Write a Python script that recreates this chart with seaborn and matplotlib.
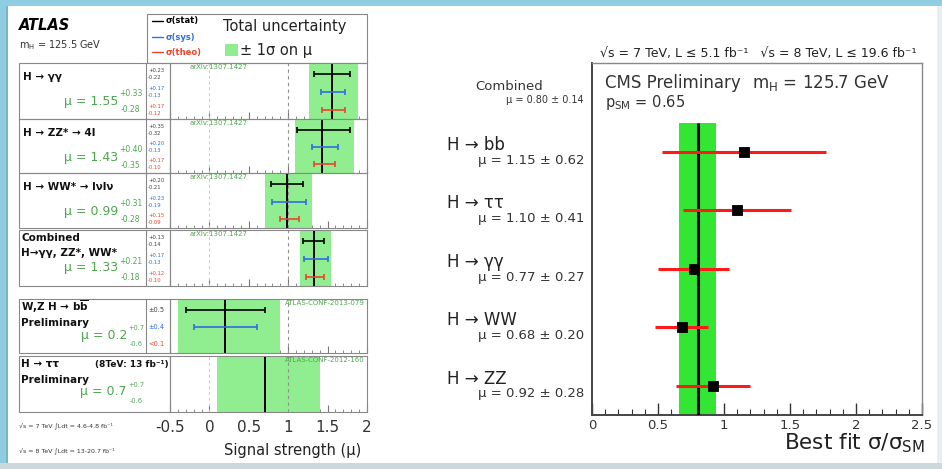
import matplotlib
matplotlib.use('Agg')
import numpy as np
import pandas as pd
import matplotlib.pyplot as plt
import matplotlib.transforms as mtrans
import seaborn as sns
from matplotlib.patches import Rectangle
from matplotlib.ticker import MultipleLocator

# ---------------- data: ATLAS ----------------
atlas_titles = ['H → γγ', 'H → ZZ* → 4l', 'H → WW* → lνlν',
                'Combined\nH→γγ, ZZ*, WW*', 'W,Z H → b' + r'$\overline{\mathbf{b}}$' + '\nPreliminary',
                'H → ττ\nPreliminary']
atlas_mu = [1.55, 1.43, 0.99, 1.33, 0.2, 0.7]
atlas_mu_txt = ['1.55', '1.43', '0.99', '1.33', '0.2', '0.7']
atlas_tot_up = [0.33, 0.40, 0.31, 0.21, 0.7, 0.7]
atlas_tot_dn = [0.28, 0.35, 0.28, 0.18, 0.6, 0.6]
atlas_stat_up = [0.23, 0.35, 0.20, 0.13, 0.5, np.nan]
atlas_stat_dn = [0.22, 0.32, 0.21, 0.14, 0.5, np.nan]
atlas_sys_up = [0.17, 0.20, 0.23, 0.17, 0.4, np.nan]
atlas_sys_dn = [0.13, 0.13, 0.19, 0.13, 0.4, np.nan]
atlas_theo_up = [0.17, 0.17, 0.15, 0.12, np.nan, np.nan]
atlas_theo_dn = [0.12, 0.10, 0.09, 0.10, np.nan, np.nan]
atlas_refs = ['arXiv:1307.1427', 'arXiv:1307.1427', 'arXiv:1307.1427', 'arXiv:1307.1427',
              'ATLAS-CONF-2013-079', 'ATLAS-CONF-2012-160']
atlas_xticks = [-0.5, 0, 0.5, 1, 1.5, 2]
atlas_xticklabels = ['-0.5', '0', '0.5', '1', '1.5', '2']

# ---------------- data: CMS ----------------
cms_channels = ['H → bb', 'H → ττ', 'H → γγ', 'H → WW', 'H → ZZ']
cms_mu = [1.15, 1.10, 0.77, 0.68, 0.92]
cms_err = [0.62, 0.41, 0.27, 0.20, 0.28]
cms_comb_mu = 0.80
cms_comb_err = 0.14
cms_xticks = [0, 0.5, 1, 1.5, 2, 2.5]
cms_xticklabels = ['0', '0.5', '1', '1.5', '2', '2.5']

sns.set_theme(style='white')
plt.rcParams['font.family'] = ['DejaVu Sans']
plt.rcParams['mathtext.fontset'] = 'dejavusans'

W, H = 942, 469
fig = plt.figure(figsize=(W / 100, H / 100), dpi=100)
fig.patch.set_facecolor('#8ecde2')


def rect(x0, y0, x1, y1):
    return [x0 / W, 1 - y1 / H, (x1 - x0) / W, (y1 - y0) / H]


bg = fig.add_axes([0, 0, 1, 1], zorder=0)
bg.set_xlim(0, W)
bg.set_ylim(H, 0)
bg.axis('off')
bg.add_patch(Rectangle((8, 6), 929, 457, facecolor='white', edgecolor='none'))
bg.add_patch(Rectangle((0, 463), W, 6, facecolor='#cdd8dd', edgecolor='none'))
bg.add_patch(Rectangle((937, 6), 5, 457, facecolor='#e6eff3', edgecolor='none'))
bg.add_patch(Rectangle((6, 6), 2, 457, facecolor='#74b6cc', edgecolor='none'))


def T(x, y, s, **kw):
    kw.setdefault('va', 'center')
    kw.setdefault('ha', 'left')
    kw.setdefault('color', '#222222')
    return bg.text(x, y, s, **kw)


GRAY = '#888888'
GREEN_TXT = '#4fa64f'
BLUE = '#2f6fe0'
RED = '#e8452a'
ATLAS_GREEN = '#90ee90'

# ---------------- ATLAS header ----------------
T(19, 25, 'ATLAS', fontsize=10.5, fontweight='bold', fontstyle='italic', color='black')
T(19, 45, r'm$_{\rm H}$ = 125.5 GeV', fontsize=7, color='#333333')
bg.add_patch(Rectangle((147, 14), 220, 49, fill=False, edgecolor=GRAY, lw=0.8))
for yy, c, lab in [(21, 'black', 'σ(stat)'), (37, BLUE, 'σ(sys)'), (52, RED, 'σ(theo)')]:
    bg.plot([152, 163], [yy, yy], color=c, lw=1)
    T(166, yy, lab, color=c, fontsize=6, fontweight='bold')
T(223, 27, 'Total uncertainty', fontsize=10.5, color='#222222')
bg.add_patch(Rectangle((225, 44), 13, 12, facecolor=ATLAS_GREEN, edgecolor='none'))
T(240, 50, '± 1σ on μ', fontsize=10.5, color='#222222')

# ---------------- ATLAS rows ----------------
rows = [(63, 119), (119, 173), (173, 228), (230, 286), (299, 353), (356, 412)]
bar_y = [0.2, 0.52, 0.84]
for i, (y0, y1) in enumerate(rows):
    bg.add_patch(Rectangle((19, y0), 151, y1 - y0, fill=False, edgecolor=GRAY, lw=0.8))
    if i < 5:
        bg.plot([146, 146], [y0, y1], color=GRAY, lw=0.8)
    p = fig.add_axes(rect(170, y0, 367, y1), zorder=2)
    p.set_facecolor('none')
    m = atlas_mu[i]
    p.fill_betweenx([0, 1], m - atlas_tot_dn[i], m + atlas_tot_up[i], color=ATLAS_GREEN, lw=0)
    p.axvline(0, ls=(0, (3, 3)), color='#c8c8c8', lw=0.7)
    p.axvline(1, ls=(0, (3, 3)), color='#909090', lw=0.8)
    p.axvline(m, color='black', lw=1.4)
    for yb, up, dn, c in [(bar_y[0], atlas_stat_up[i], atlas_stat_dn[i], 'black'),
                          (bar_y[1], atlas_sys_up[i], atlas_sys_dn[i], BLUE),
                          (bar_y[2], atlas_theo_up[i], atlas_theo_dn[i], RED)]:
        if not np.isnan(up):
            p.errorbar([m], [yb], xerr=[[dn], [up]], fmt='none', ecolor=c, elinewidth=1.2,
                       capsize=2.5, capthick=1.2)
    p.set_xlim(-0.5, 2.0)
    p.set_ylim(1, 0)
    p.set_yticks([])
    p.set_xticks(atlas_xticks)
    p.xaxis.set_minor_locator(MultipleLocator(0.1))
    p.tick_params(axis='x', which='both', direction='in', bottom=True, top=False,
                  colors='#777777', labelcolor='#333333', labelsize=11, pad=6)
    p.tick_params(axis='x', which='major', length=5, width=0.8)
    p.tick_params(axis='x', which='minor', length=2.5, width=0.6)
    if i == 5:
        p.set_xticklabels(atlas_xticklabels)
    else:
        p.set_xticklabels([])
    for s in p.spines.values():
        s.set_color(GRAY)
        s.set_linewidth(0.8)
    # reference label
    if i < 4:
        p.text(0.1, 0.92, atlas_refs[i], transform=p.transAxes, fontsize=5, color=GREEN_TXT,
               ha='left', va='center')
    else:
        p.text(0.99, 0.92, atlas_refs[i], transform=p.transAxes, fontsize=5, color=GREEN_TXT,
               ha='right', va='center')

    # labels in the left box
    title_lines = atlas_titles[i].split('\n')
    if i < 3:
        T(23, y0 + 14, title_lines[0], fontsize=7.5, fontweight='bold', color='#111111')
        ym = y0 + 38
        xr = 118
        sfs = 5.5
    elif i == 3:
        T(21, y0 + 8, title_lines[0], fontsize=7.5, fontweight='bold', color='#111111')
        T(21, y0 + 23, title_lines[1], fontsize=7.5, fontweight='bold', color='#111111')
        ym = y0 + 38
        xr = 118
        sfs = 5.5
    else:
        T(21, y0 + 8, title_lines[0], fontsize=7.5, fontweight='bold', color='#111111')
        T(21, y0 + 24, title_lines[1], fontsize=7.5, fontweight='bold', color='#111111')
        ym = y0 + 36
        xr = 127
        sfs = 4.8
        if i == 5:
            T(95, y0 + 8, '(8TeV: 13 fb⁻¹)', fontsize=6.5, fontweight='bold', color='#111111')
    T(xr, ym, 'μ = ' + atlas_mu_txt[i], fontsize=9, color=GREEN_TXT, ha='right')
    fmt = '{:+.2f}' if i < 4 else '{:+.1f}'
    T(xr + 1, ym - 7, fmt.format(atlas_tot_up[i]), fontsize=sfs, color=GREEN_TXT, ha='left')
    T(xr + 3, ym + 9, fmt.format(-atlas_tot_dn[i]), fontsize=sfs, color=GREEN_TXT, ha='left')

    # numbers column
    h = y1 - y0
    if i < 4:
        for yb, up, dn, c in [(bar_y[0], atlas_stat_up[i], atlas_stat_dn[i], '#444444'),
                              (bar_y[1], atlas_sys_up[i], atlas_sys_dn[i], BLUE),
                              (bar_y[2], atlas_theo_up[i], atlas_theo_dn[i], RED)]:
            yc = y0 + yb * h
            T(148, yc - 3.5, '+{:.2f}'.format(up), fontsize=3.8, color=c)
            T(148, yc + 3.5, '-{:.2f}'.format(dn), fontsize=3.8, color=c)
    elif i == 4:
        T(148, y0 + bar_y[0] * h, '±{:.1f}'.format(atlas_stat_up[i]), fontsize=4.8, color='#444444')
        T(148, y0 + bar_y[1] * h, '±{:.1f}'.format(atlas_sys_up[i]), fontsize=4.8, color=BLUE)
        T(148, y0 + bar_y[2] * h, '<0.1', fontsize=4.8, color=RED)

T(293, 450, 'Signal strength (μ)', fontsize=10.5, ha='center', color='#222222')
T(19, 426, '√s = 7 TeV ∫Ldt = 4.6-4.8 fb⁻¹', fontsize=4.5, color='#333333')
T(19, 451, '√s = 8 TeV ∫Ldt = 13-20.7 fb⁻¹', fontsize=4.5, color='#333333')

# ---------------- CMS ----------------
ax = fig.add_axes(rect(592, 63, 922, 415), zorder=2)
ax.set_facecolor('none')
pos = np.arange(len(cms_channels))
mu = np.array(cms_mu)
err = np.array(cms_err)
ax.fill_betweenx([-0.5, 4.5], cms_comb_mu - cms_comb_err, cms_comb_mu + cms_comb_err,
                 color='#33e633', lw=0)
ax.vlines(cms_comb_mu, -0.5, 4.5, color='black', lw=2.2, zorder=3)
ax.hlines(pos, mu - err, mu + err, color='#ff1a1a', lw=2.2, zorder=4)
df = pd.DataFrame({'mu': mu, 'pos': pos})
sns.scatterplot(data=df, x='mu', y='pos', marker='s', s=60, color='black',
                edgecolor='black', ax=ax, zorder=5, legend=False)
ax.set_xlim(0, 2.5)
ax.set_ylim(4.5, -1.52)
ax.set_xlabel('')
ax.set_ylabel('')
ax.set_yticks([])
ax.set_xticks(cms_xticks)
ax.set_xticklabels(cms_xticklabels)
ax.xaxis.set_minor_locator(MultipleLocator(0.1))
ax.tick_params(axis='x', which='both', direction='in', bottom=True, top=False,
               colors='#333333', labelsize=9.5, pad=3)
ax.tick_params(axis='x', which='major', length=9, width=1)
ax.tick_params(axis='x', which='minor', length=4.5, width=0.8)
for k, s in ax.spines.items():
    s.set_color('#444444' if k in ('left', 'bottom') else '#888888')
    s.set_linewidth(1.4 if k in ('left', 'bottom') else 1.0)

blend = mtrans.blended_transform_factory(bg.transData, ax.transData)
for i, (lab, m, e) in enumerate(zip(cms_channels, cms_mu, cms_err)):
    ax.text(447, i - 0.12, lab, transform=blend, ha='left', va='center', fontsize=12,
            color='#222222', clip_on=False)
    ax.text(584, i + 0.14, 'μ = {:.2f} ± {:.2f}'.format(m, e), transform=blend, ha='right',
            va='center', fontsize=9.5, color='#333333', clip_on=False)
ax.text(509, -1.11, 'Combined', transform=blend, ha='center', va='center', fontsize=9.5,
        color='#333333', clip_on=False)
ax.text(584, -0.89, 'μ = {:.2f} ± {:.2f}'.format(cms_comb_mu, cms_comb_err), transform=blend,
        ha='right', va='center', fontsize=7, color='#333333', clip_on=False)

T(758, 54, '√s = 7 TeV, L ≤ 5.1 fb⁻¹   √s = 8 TeV, L ≤ 19.6 fb⁻¹', fontsize=9, ha='center',
  color='#222222')
T(605, 83, 'CMS Preliminary', fontsize=12, color='#333333')
T(752, 83, r'm$_{\rm H}$ = 125.7 GeV', fontsize=12, color='#333333')
T(605, 103, r'p$_{\rm SM}$ = 0.65', fontsize=10.5, color='#333333')
T(925, 449, r'Best fit σ/σ$_{\rm SM}$', fontsize=15.5, ha='right', va='baseline', color='#222222')

fig.savefig('out.png', dpi=100, facecolor=fig.get_facecolor())
